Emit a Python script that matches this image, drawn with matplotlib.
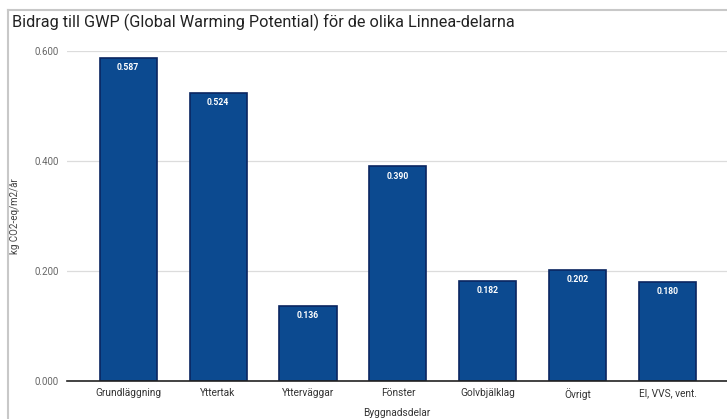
import matplotlib.pyplot as plt
from matplotlib.lines import Line2D

# GWP contribution per building part
delar = ['Grundläggning', 'Yttertak', 'Ytterväggar', 'Fönster',
         'Golvbjälklag', 'Övrigt', 'El, VVS, vent.']
gwp = [0.587, 0.524, 0.136, 0.390, 0.182, 0.202, 0.180]
yticks = [0.0, 0.2, 0.4, 0.6]

plt.rcParams['font.family'] = ['Roboto', 'DejaVu Sans']

fig = plt.figure(figsize=(7.27, 4.19), dpi=100)
ax = fig.add_axes([67 / 727, 38 / 419, 1 - 67 / 727, 330 / 419])

x = range(len(delar))
bars = ax.bar(x, gwp, width=0.635, color='#0c4a90', edgecolor='#0a2560',
              linewidth=1.2, zorder=3)

for b, v in zip(bars, gwp):
    ax.annotate(f'{v:.3f}', (b.get_x() + b.get_width() / 2, v),
                xytext=(0, -7), textcoords='offset points',
                ha='center', va='center', color='white', fontsize=6.2,
                fontweight='bold', zorder=4)

ax.set_xlim(-0.68, 6.66)
ax.set_ylim(0, 0.6)
ax.set_yticks(yticks)
ax.set_yticklabels([f'{t:.3f}' for t in yticks])
ax.set_xticks(list(x))
ax.set_xticklabels(delar)

ax.grid(axis='y', color='#dcdcdc', linewidth=0.9, zorder=0)
ax.tick_params(axis='y', length=0, pad=6, labelsize=7, labelcolor='#666666')
ax.tick_params(axis='x', length=0, pad=5, labelsize=7.3, labelcolor='#333333')
for s in ['left', 'right', 'top']:
    ax.spines[s].set_visible(False)
ax.spines['bottom'].set_color('#222222')
ax.spines['bottom'].set_linewidth(1.2)
ax.spines['bottom'].set_zorder(5)

ax.set_xlabel('Byggnadsdelar', fontsize=7.3, color='#333333', labelpad=6)
ax.set_ylabel('kg CO2-eq/m2/år', fontsize=7, color='#444444', labelpad=10)

fig.text(12 / 727, 1 - 22 / 419, 'Bidrag till GWP (Global Warming Potential) för de olika Linnea-delarna',
         fontsize=11.7, color='#222222', va='center', ha='left')

# light grey frame round the chart card
fig.add_artist(Line2D([8 / 727, 8 / 727], [0, 1 - 10 / 419], color='#c8c8c8', linewidth=1.5,
                      transform=fig.transFigure))
fig.add_artist(Line2D([8 / 727, 1], [1 - 10 / 419, 1 - 10 / 419], color='#c8c8c8', linewidth=1.5,
                      transform=fig.transFigure))

plt.savefig('out.png', dpi=100)
